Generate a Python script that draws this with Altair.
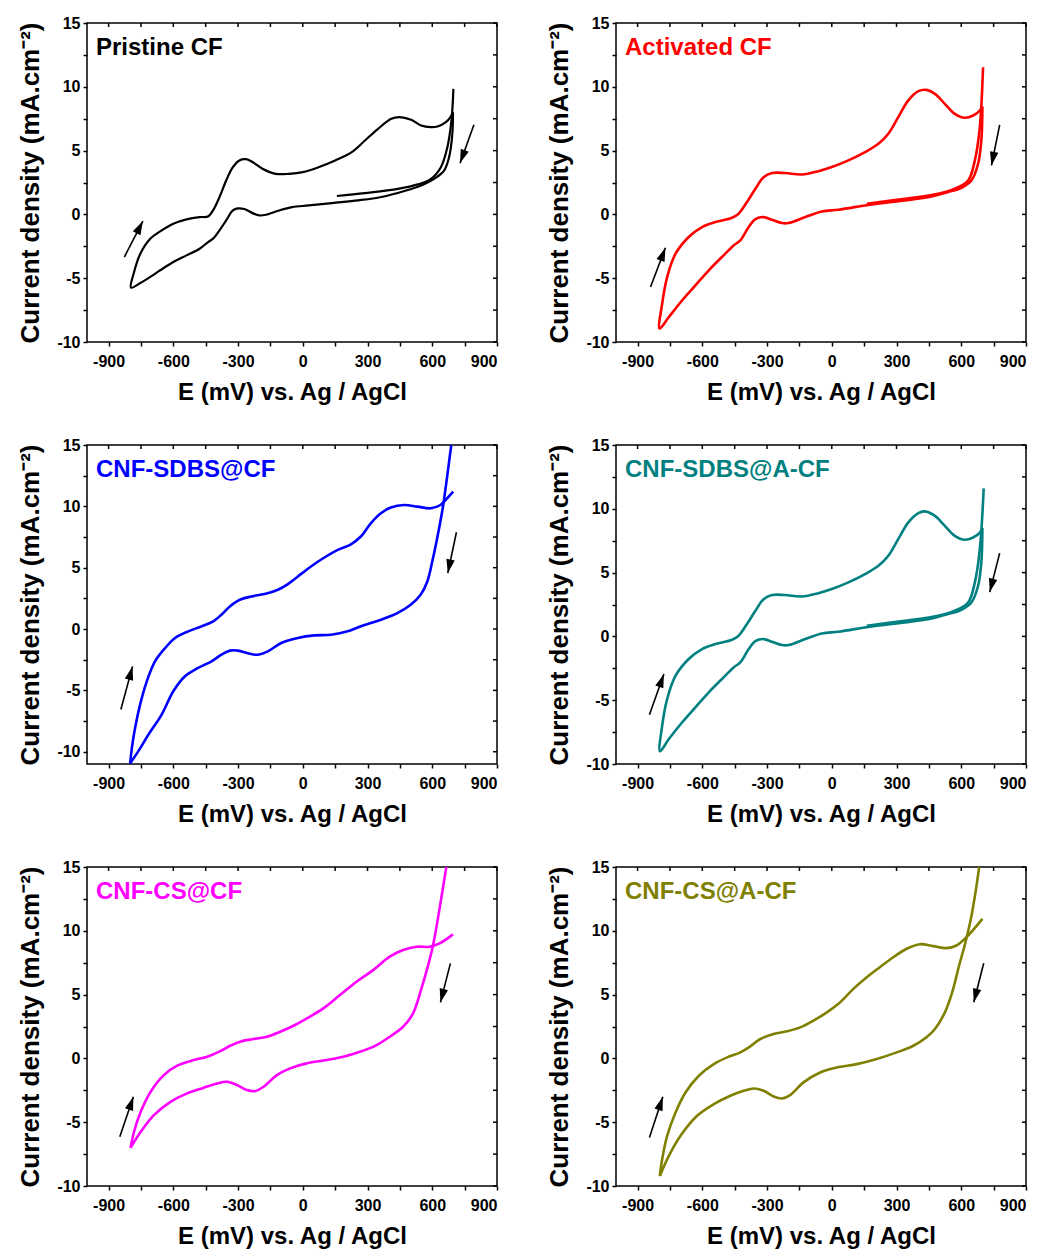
import math
import altair as alt
import pandas as pd

FONT = "Liberation Sans"
W, H = 410, 319
XDOM = [-1000, 900]
X_TICKS = list(range(-900, 901, 150))
Y_TICKS = [-10 + 2.5 * i for i in range(11)]

X_TITLE = "E (mV) vs. Ag / AgCl"
Y_TITLE = "Current density (mA.cm\u207b\u00b2)"

# ---------------- Panel 1: Pristine CF ----------------
P1_REV_E = [696, 693, 678, 655, 609, 548, 471, 364, 257, 135, 28, -49, -110, -171, -202, -233, -271, -301, -324, -355, -386, -416, -439, -478, -539, -600, -661, -707, -753, -796]
P1_REV_J = [8.01, 6.3, 4.49, 3.44, 2.79, 2.27, 1.83, 1.36, 1.1, 0.89, 0.7, 0.57, 0.31, -0.03, -0.08, 0.1, 0.42, 0.47, 0.31, -0.47, -1.25, -1.9, -2.17, -2.69, -3.21, -3.73, -4.38, -4.9, -5.38, -5.74]
P1_FWD_E = [-796, -784, -753, -707, -661, -600, -539, -478, -439, -416, -386, -355, -324, -294, -263, -233, -187, -126, -64, 0, 73, 150, 227, 288, 349, 410, 448, 502, 548, 594, 624, 663, 686, 696]
P1_FWD_J = [-5.74, -4.65, -3.08, -1.9, -1.33, -0.73, -0.39, -0.21, -0.16, 0.31, 1.36, 2.66, 3.7, 4.23, 4.33, 4.1, 3.58, 3.18, 3.18, 3.31, 3.7, 4.23, 4.88, 5.79, 6.71, 7.49, 7.62, 7.41, 6.97, 6.84, 6.89, 7.23, 7.67, 8.01]
P1_INIT_E = [158, 288, 441, 533, 594, 640, 670, 689, 698]
P1_INIT_J = [1.44, 1.67, 2.0, 2.35, 2.79, 3.7, 5.27, 7.36, 9.84]
P1_ARROWS = [(-827, -3.34, -741, -0.52), (793, 7.02, 729, 4.02)]

# ---------------- Panel 2: Activated CF ----------------
P2_REV_E = [698, 693, 678, 647, 601, 539, 462, 339, 185, 31, -46, -123, -200, -231, -277, -316, -354, -385, -424, -455, -509, -570, -632, -693, -755, -798]
P2_REV_J = [8.45, 5.79, 3.97, 2.66, 2.09, 1.75, 1.41, 1.1, 0.78, 0.37, 0.23, -0.21, -0.68, -0.68, -0.42, -0.21, -0.37, -0.99, -2.04, -2.43, -3.34, -4.38, -5.56, -6.73, -8.04, -8.95]
P2_FWD_E = [-798, -786, -763, -724, -663, -601, -539, -462, -432, -393, -354, -316, -277, -216, -139, -62, 0, 77, 154, 216, 262, 308, 354, 401, 439, 478, 524, 570, 616, 655, 686, 698]
P2_FWD_J = [-8.95, -6.99, -4.91, -3.08, -1.77, -0.99, -0.6, -0.26, 0.05, 0.97, 2.01, 2.92, 3.24, 3.24, 3.13, 3.39, 3.71, 4.23, 4.88, 5.53, 6.32, 7.62, 8.92, 9.66, 9.76, 9.45, 8.66, 7.88, 7.57, 7.75, 8.14, 8.45]
P2_INIT_E = [162, 339, 493, 570, 632, 663, 686, 701]
P2_INIT_J = [0.84, 1.23, 1.62, 2.01, 2.66, 4.23, 6.84, 11.53]
P2_ARROWS = [(-840, -5.69, -771, -2.61), (778, 7.02, 740, 3.84)]

# ---------------- Panel 3: CNF-SDBS@CF ----------------
P3_UP_E = [-800, -792, -777, -754, -723, -685, -638, -592, -531, -469, -415, -377, -338, -292, -238, -177, -115, -69, -23, 38, 100, 162, 223, 269, 315, 362, 408, 469, 531, 592, 638, 669, 697]
P3_UP_J = [-10.95, -9.68, -8.05, -6.16, -4.26, -2.63, -1.55, -0.73, -0.19, 0.22, 0.62, 1.17, 1.84, 2.39, 2.66, 2.85, 3.2, 3.66, 4.28, 5.1, 5.83, 6.45, 6.91, 7.54, 8.62, 9.44, 9.9, 10.11, 9.98, 9.84, 10.11, 10.66, 11.2]
P3_LOW_E = [-800, -762, -715, -654, -600, -546, -485, -423, -377, -338, -300, -254, -208, -162, -100, -23, 54, 131, 208, 269, 362, 438, 500, 546, 577, 600, 625, 648, 668, 688]
P3_LOW_J = [-10.95, -9.95, -8.6, -6.97, -5.07, -3.85, -3.17, -2.63, -2.09, -1.76, -1.76, -1.98, -2.09, -1.82, -1.14, -0.73, -0.52, -0.46, -0.19, 0.22, 0.76, 1.3, 1.98, 2.79, 3.88, 5.5, 7.6, 9.8, 12.3, 15.0]
P3_ARROWS = [(-843, -6.56, -789, -3.04), (712, 7.89, 672, 4.56)]

# ---------------- Panel 4: CNF-SDBS@A-CF ----------------
P4_REV_E = [698, 693, 678, 647, 601, 539, 462, 339, 185, 31, -46, -123, -200, -231, -277, -316, -354, -385, -424, -455, -509, -570, -632, -693, -755, -796]
P4_REV_J = [8.5, 5.8, 3.97, 2.66, 2.09, 1.75, 1.41, 1.1, 0.78, 0.37, 0.23, -0.21, -0.68, -0.68, -0.42, -0.21, -0.37, -0.99, -2.04, -2.43, -3.34, -4.38, -5.56, -6.73, -8.04, -9.0]
P4_FWD_E = [-796, -786, -763, -724, -663, -601, -539, -462, -432, -393, -354, -316, -277, -216, -139, -62, 0, 77, 154, 216, 262, 308, 354, 401, 430, 478, 524, 570, 616, 655, 686, 698]
P4_FWD_J = [-9.0, -6.99, -4.91, -3.08, -1.77, -0.99, -0.6, -0.26, 0.05, 0.97, 2.01, 2.92, 3.24, 3.24, 3.13, 3.39, 3.71, 4.23, 4.88, 5.53, 6.32, 7.62, 8.92, 9.66, 9.8, 9.45, 8.66, 7.88, 7.57, 7.75, 8.14, 8.5]
P4_INIT_E = [162, 339, 493, 570, 632, 663, 686, 704]
P4_INIT_J = [0.84, 1.23, 1.62, 2.01, 2.66, 4.23, 6.84, 11.6]
P4_ARROWS = [(-845, -6.14, -778, -2.95), (778, 6.53, 732, 3.47)]

# ---------------- Panel 5: CNF-CS@CF ----------------
P5_UP_E = [-798, -782, -751, -705, -644, -582, -505, -443, -382, -336, -290, -228, -166, -105, -43, 18, 95, 172, 249, 326, 403, 465, 527, 588, 634, 696]
P5_UP_J = [-7.0, -5.75, -4.18, -2.61, -1.31, -0.57, -0.13, 0.13, 0.57, 0.99, 1.31, 1.52, 1.7, 2.09, 2.56, 3.13, 3.92, 4.96, 6.01, 6.92, 7.97, 8.49, 8.75, 8.75, 9.01, 9.72]
P5_LOW_E = [-798, -751, -690, -613, -536, -459, -397, -351, -305, -259, -220, -182, -120, -59, 18, 111, 188, 265, 342, 403, 465, 511, 550, 581, 604, 634, 665]
P5_LOW_J = [-7.0, -5.75, -4.44, -3.4, -2.74, -2.3, -1.96, -1.83, -2.09, -2.48, -2.56, -2.22, -1.31, -0.78, -0.39, -0.13, 0.13, 0.52, 1.04, 1.7, 2.48, 3.53, 5.49, 7.31, 8.88, 11.76, 15.0]
P5_ARROWS = [(-848, -6.14, -785, -3.0), (684, 7.45, 638, 4.39)]

# ---------------- Panel 6: CNF-CS@A-CF ----------------
P6_UP_E = [-797, -786, -763, -724, -678, -616, -547, -485, -424, -378, -331, -270, -208, -146, -85, -23, 39, 100, 162, 223, 285, 347, 408, 470, 532, 578, 624, 698]
P6_UP_J = [-9.21, -7.9, -6.07, -4.24, -2.67, -1.36, -0.45, 0.08, 0.47, 0.94, 1.52, 1.91, 2.12, 2.43, 2.96, 3.61, 4.4, 5.45, 6.36, 7.15, 7.93, 8.59, 8.95, 8.8, 8.64, 8.85, 9.5, 10.94]
P6_LOW_E = [-797, -755, -701, -624, -547, -470, -408, -362, -316, -270, -231, -193, -131, -54, 23, 116, 208, 301, 378, 439, 478, 524, 558, 590, 618, 643, 665, 683]
P6_LOW_J = [-9.21, -7.64, -6.07, -4.5, -3.59, -2.93, -2.54, -2.36, -2.54, -2.98, -3.14, -2.88, -1.88, -1.1, -0.71, -0.45, -0.05, 0.47, 0.99, 1.65, 2.3, 3.61, 5.18, 7.28, 9.0, 10.8, 12.9, 15.0]
P6_ARROWS = [(-845, -6.2, -783, -3.01), (704, 7.46, 658, 4.4)]

ARROW_HEAD = "M0,0L0.75,2.4L-0.75,2.4Z"


def arrow_angle(x1, y1, x2, y2, ydom):
    kx = W / (XDOM[1] - XDOM[0])
    ky = H / (ydom[1] - ydom[0])
    dx = (x2 - x1) * kx
    dy = -(y2 - y1) * ky
    return math.degrees(math.atan2(dx, -dy)) % 360


def panel(label, color, segments, ydom, arrows, lw=2.6):
    rows = []
    for si, (es, js) in enumerate(segments):
        for i, (e, j) in enumerate(zip(es, js)):
            rows.append({"E": e, "J": j, "seg": si, "ord": i})
    df = pd.DataFrame(rows)
    xs = alt.Scale(domain=XDOM, nice=False, zero=False)
    ys = alt.Scale(domain=ydom, nice=False, zero=False)

    x_axis = alt.Axis(values=X_TICKS, labelExpr="datum.value % 300 === 0 ? '' + datum.value : ''",
                      title=X_TITLE, orient="bottom", labelPadding=7, titlePadding=11)
    y_axis = alt.Axis(values=Y_TICKS, labelExpr="datum.value % 5 === 0 ? '' + datum.value : ''",
                      title=Y_TITLE, orient="left", labelPadding=3, titlePadding=13)

    lines = alt.Chart(df).mark_line(color=color, strokeWidth=lw, clip=True,
                                    interpolate="catmull-rom", strokeJoin="round").encode(
        x=alt.X("E:Q", scale=xs, axis=x_axis),
        y=alt.Y("J:Q", scale=ys, axis=y_axis),
        detail="seg:N",
        order="ord:Q",
    )

    # mirrored inward ticks on the top and right edges of the frame
    top_ticks = alt.Chart(pd.DataFrame({"v": X_TICKS})).mark_rule(color="black", strokeWidth=1.5).encode(
        x=alt.X("v:Q", scale=xs, axis=None),
        y=alt.value(0),
        y2=alt.value(4),
    )
    right_ticks = alt.Chart(pd.DataFrame({"v": Y_TICKS})).mark_rule(color="black", strokeWidth=1.5).encode(
        y=alt.Y("v:Q", scale=ys, axis=None),
        x=alt.value(W - 4),
        x2=alt.value(W),
    )

    adf = pd.DataFrame([
        {"x1": a[0], "y1": a[1], "x2": a[2], "y2": a[3],
         "ang": arrow_angle(a[0], a[1], a[2], a[3], ydom)} for a in arrows
    ])
    shafts = alt.Chart(adf).mark_rule(color="black", strokeWidth=1.6).encode(
        x=alt.X("x1:Q", scale=xs, axis=None),
        y=alt.Y("y1:Q", scale=ys, axis=None),
        x2="x2:Q",
        y2="y2:Q",
    )
    heads = alt.Chart(adf).mark_point(shape=ARROW_HEAD, filled=True, size=130, color="black",
                                      opacity=1, strokeWidth=0).encode(
        x=alt.X("x2:Q", scale=xs, axis=None),
        y=alt.Y("y2:Q", scale=ys, axis=None),
        angle=alt.Angle("ang:Q", scale=None),
    )

    text = alt.Chart(pd.DataFrame({"t": [label]})).mark_text(
        align="left", baseline="middle", fontSize=24, fontWeight="bold", font=FONT, color=color
    ).encode(x=alt.value(9), y=alt.value(25), text="t:N")

    return alt.layer(lines, top_ticks, right_ticks, shafts, heads, text).resolve_axis(
        x="independent", y="independent"
    ).properties(width=W, height=H)


p1 = panel("Pristine CF", "#000000",
           [(P1_REV_E + P1_FWD_E[1:], P1_REV_J + P1_FWD_J[1:]), (P1_INIT_E, P1_INIT_J)],
           [-10, 15], P1_ARROWS, lw=2.2)
p2 = panel("Activated CF", "#FF0000",
           [(P2_REV_E + P2_FWD_E[1:], P2_REV_J + P2_FWD_J[1:]), (P2_INIT_E, P2_INIT_J)],
           [-10, 15], P2_ARROWS)
p3 = panel("CNF-SDBS@CF", "#0000FF",
           [(P3_UP_E, P3_UP_J), (P3_LOW_E, P3_LOW_J)],
           [-11, 15], P3_ARROWS)
p4 = panel("CNF-SDBS@A-CF", "#008080",
           [(P4_REV_E + P4_FWD_E[1:], P4_REV_J + P4_FWD_J[1:]), (P4_INIT_E, P4_INIT_J)],
           [-10, 15], P4_ARROWS)
p5 = panel("CNF-CS@CF", "#FF00FF",
           [(P5_UP_E, P5_UP_J), (P5_LOW_E, P5_LOW_J)],
           [-10, 15], P5_ARROWS)
p6 = panel("CNF-CS@A-CF", "#808000",
           [(P6_UP_E, P6_UP_J), (P6_LOW_E, P6_LOW_J)],
           [-10, 15], P6_ARROWS)

chart = alt.vconcat(
    alt.hconcat(p1, p2, spacing=47),
    alt.hconcat(p3, p4, spacing=47),
    alt.hconcat(p5, p6, spacing=47),
    spacing=31,
).properties(
    padding={"left": 9, "top": 6, "right": 0, "bottom": 0}
).configure_view(
    stroke="#000000", strokeWidth=1.5
).configure_axis(
    labelFont=FONT, labelFontSize=16, labelFontWeight="bold", labelColor="#000000",
    titleFont=FONT, titleFontSize=24, titleFontWeight="bold", titleColor="#000000",
    tickColor="#000000", tickWidth=1.5, tickSize=4, grid=False, domain=False,
).configure_axisLeft(
    titleFontSize=26
)

chart.save("out.html", embed_options={"renderer": "svg", "actions": False})
